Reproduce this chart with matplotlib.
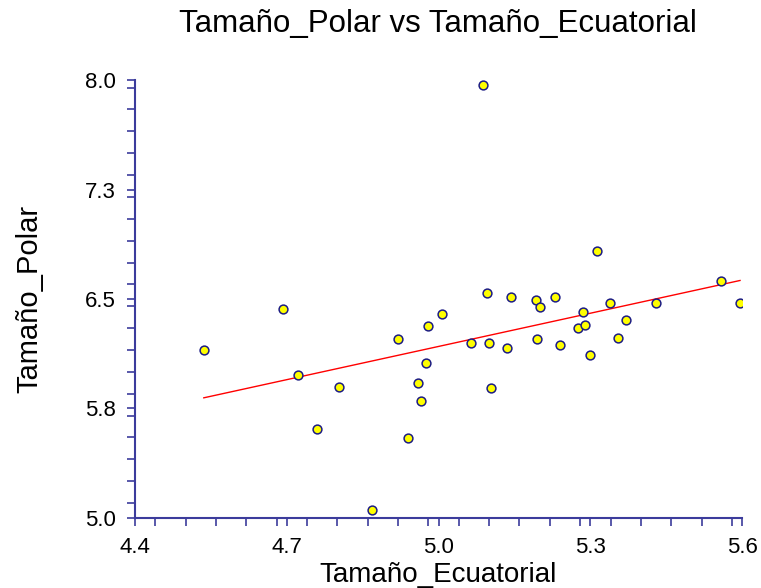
import numpy as np
import matplotlib
matplotlib.use("Agg")
import matplotlib.pyplot as plt
from matplotlib.ticker import FixedLocator, FixedFormatter, MultipleLocator

# values
ecuatorial = [4.536, 4.693, 4.722, 4.760, 4.803, 4.869, 4.919, 4.940, 4.959, 4.966,
              4.975, 4.980, 5.006, 5.064, 5.087, 5.095, 5.099, 5.104, 5.135, 5.144,
              5.193, 5.194, 5.200, 5.230, 5.241, 5.276, 5.285, 5.289, 5.300, 5.313,
              5.338, 5.355, 5.371, 5.430, 5.558, 5.596]
polar = [6.150, 6.429, 5.979, 5.606, 5.894, 5.055, 6.228, 5.547, 5.922, 5.803,
         6.059, 6.315, 6.397, 6.200, 7.970, 6.543, 6.198, 5.892, 6.162, 6.514,
         6.493, 6.226, 6.445, 6.516, 6.184, 6.301, 6.409, 6.322, 6.116, 6.829,
         6.475, 6.232, 6.356, 6.470, 6.626, 6.475]

x_ticks = [4.4, 4.7, 5.0, 5.3, 5.6]
x_labels = ["4.4", "4.7", "5.0", "5.3", "5.6"]
y_ticks = [5.0, 5.75, 6.5, 7.25, 8.0]
y_labels = ["5.0", "5.8", "6.5", "7.3", "8.0"]

x = np.array(ecuatorial)
y = np.array(polar)

axis_col = "#3c3c9c"
plt.rcParams['font.family'] = ['Liberation Sans', 'DejaVu Sans']

fig = plt.figure(figsize=(7.61, 5.88), dpi=100)
ax = fig.add_axes([0.1774, 0.1196, 0.7977, 0.7438])

# linear fit
b, a = np.polyfit(x, y, 1)
xl = np.array([x.min(), x.max()])
ax.plot(xl, a + b * xl, color="red", lw=1.0, zorder=2)

ax.scatter(x, y, s=40, facecolor="#ffff00", edgecolor="#1c1c84", linewidth=1.1, zorder=3)

ax.set_xlim(4.4, 5.6)
ax.set_ylim(5.0, 8.0)
ax.xaxis.set_major_locator(FixedLocator(x_ticks))
ax.xaxis.set_major_formatter(FixedFormatter(x_labels))
ax.xaxis.set_minor_locator(MultipleLocator(0.06))
ax.yaxis.set_major_locator(FixedLocator(y_ticks))
ax.yaxis.set_major_formatter(FixedFormatter(y_labels))
ax.yaxis.set_minor_locator(MultipleLocator(0.15))

for s in ["top", "right"]:
    ax.spines[s].set_visible(False)
for s in ["left", "bottom"]:
    ax.spines[s].set_color(axis_col)
    ax.spines[s].set_linewidth(1.5)

ax.tick_params(which="both", direction="out", length=6, width=1.2, color=axis_col)
ax.tick_params(axis="both", which="major", labelsize=16, pad=8)

ax.set_xlabel("Tamaño_Ecuatorial", fontsize=20, labelpad=3)
ax.set_ylabel("Tamaño_Polar", fontsize=21, labelpad=30)
fig.text(0.575, 0.96, "Tamaño_Polar vs Tamaño_Ecuatorial", fontsize=22.5, ha="center", va="center")

fig.savefig("out.png", dpi=100)
